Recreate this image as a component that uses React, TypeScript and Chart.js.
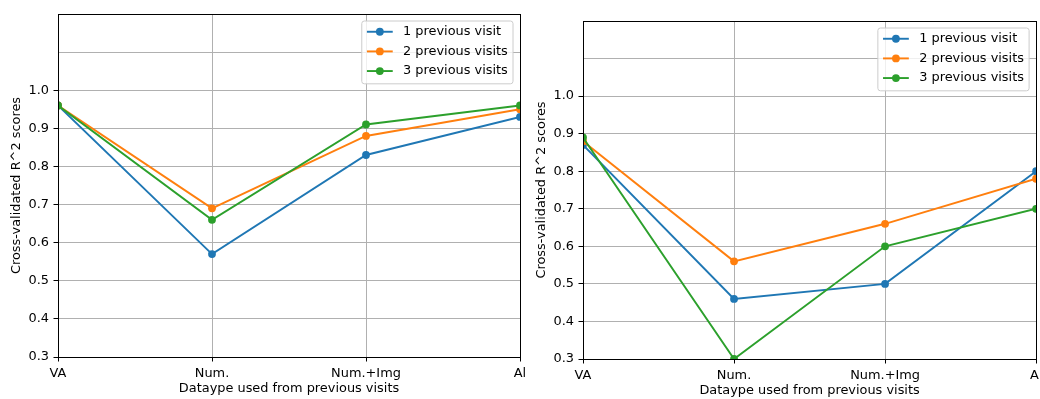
import React, { useEffect, useRef } from "react";
import { Chart, registerables } from "chart.js";
Chart.register(...registerables);

const categories = ["VA", "Num.", "Num.+Img", "Al"];
const seriesLabels = ["1 previous visit", "2 previous visits", "3 previous visits"];
const seriesColors = ["#1f77b4", "#ff7f0e", "#2ca02c"];

const leftOne = [0.96, 0.57, 0.83, 0.93];
const leftTwo = [0.96, 0.69, 0.88, 0.95];
const leftThree = [0.96, 0.66, 0.91, 0.96];

const rightOne = [0.87, 0.46, 0.5, 0.8];
const rightTwo = [0.88, 0.56, 0.66, 0.78];
const rightThree = [0.89, 0.3, 0.6, 0.7];

const yTickValues = [0.3, 0.4, 0.5, 0.6, 0.7, 0.8, 0.9, 1.0, 1.1, 1.2];
const yLabelledMax = 1.0;
const xTitle = "Dataype used from previous visits";
const yTitle = "Cross-validated R^2 scores";

const W = 1040;
const H = 399;
const FONT = "'DejaVu Sans', sans-serif";
const FS = 12.9;

type Area = { left: number; top: number; right: number; bottom: number };

function makePlugin(): any {
  return {
    id: "mplDecor",
    afterDraw(chart: any) {
      const ctx = chart.ctx as CanvasRenderingContext2D;
      const a = chart.chartArea;
      ctx.save();
      // frame
      ctx.strokeStyle = "#000";
      ctx.lineWidth = 1;
      ctx.strokeRect(Math.round(a.left) + 0.5, Math.round(a.top) + 0.5, Math.round(a.right - a.left), Math.round(a.bottom - a.top));
      // titles
      ctx.fillStyle = "#000";
      ctx.font = `${FS}px ${FONT}`;
      ctx.textAlign = "center";
      ctx.textBaseline = "middle";
      ctx.fillText(xTitle, (a.left + a.right) / 2, a.bottom + 32);
      ctx.save();
      ctx.translate(a.left - 41, (a.top + a.bottom) / 2);
      ctx.rotate(-Math.PI / 2);
      ctx.fillText(yTitle, 0, 0);
      ctx.restore();
      // legend
      const ds = chart.data.datasets.slice().sort((p: any, q: any) => p.legendIndex - q.legendIndex);
      const bp = 0.4 * FS;
      const hl = 2.0 * FS;
      const htp = 0.8 * FS;
      let tw = 0;
      ds.forEach((d: any) => {
        tw = Math.max(tw, ctx.measureText(d.label).width);
      });
      const rowH = 13.2;
      const ls = 0.5 * FS;
      const bw = bp * 2 + hl + htp + tw;
      const bh = bp * 2 + rowH * ds.length + ls * (ds.length - 1);
      const bx = a.right - 7 - bw;
      const by = a.top + 7;
      ctx.beginPath();
      const r = 0.2 * FS;
      ctx.moveTo(bx + r, by);
      ctx.lineTo(bx + bw - r, by);
      ctx.arcTo(bx + bw, by, bx + bw, by + r, r);
      ctx.lineTo(bx + bw, by + bh - r);
      ctx.arcTo(bx + bw, by + bh, bx + bw - r, by + bh, r);
      ctx.lineTo(bx + r, by + bh);
      ctx.arcTo(bx, by + bh, bx, by + bh - r, r);
      ctx.lineTo(bx, by + r);
      ctx.arcTo(bx, by, bx + r, by, r);
      ctx.closePath();
      ctx.fillStyle = "rgba(255,255,255,0.8)";
      ctx.fill();
      ctx.strokeStyle = "#cccccc";
      ctx.lineWidth = 1;
      ctx.stroke();
      ds.forEach((d: any, i: number) => {
        const cy = by + bp + rowH / 2 + i * (rowH + ls) - 1;
        const x0 = bx + bp;
        ctx.strokeStyle = d.borderColor;
        ctx.lineWidth = 1.93;
        ctx.beginPath();
        ctx.moveTo(x0, cy);
        ctx.lineTo(x0 + hl, cy);
        ctx.stroke();
        ctx.fillStyle = d.borderColor;
        ctx.beginPath();
        ctx.arc(x0 + hl / 2, cy, 3.9, 0, Math.PI * 2);
        ctx.fill();
        ctx.fillStyle = "#000";
        ctx.textAlign = "left";
        ctx.textBaseline = "middle";
        ctx.fillText(d.label, x0 + hl + htp, cy);
      });
      ctx.restore();
    },
  };
}

function makeConfig(values: number[][], area: Area): any {
  const datasets = values.map((v, i) => ({
    label: seriesLabels[i],
    data: v,
    borderColor: seriesColors[i],
    backgroundColor: seriesColors[i],
    borderWidth: 1.93,
    pointRadius: 3.9,
    pointBorderWidth: 0,
    pointHoverRadius: 3.9,
    tension: 0,
    clip: 0,
    order: values.length - 1 - i,
    legendIndex: i,
  }));
  return {
    type: "line",
    data: { labels: categories, datasets },
    plugins: [makePlugin()],
    options: {
      animation: false,
      responsive: false,
      maintainAspectRatio: false,
      devicePixelRatio: 1,
      events: [],
      layout: {
        padding: { left: area.left - 58, top: area.top, right: W - area.right, bottom: 0 },
      },
      plugins: { legend: { display: false }, tooltip: { enabled: false }, title: { display: false } },
      scales: {
        x: {
          type: "category",
          offset: false,
          grid: { color: "#b0b0b0", lineWidth: 1, offset: false, tickLength: 4.5, tickColor: "#000", drawTicks: true },
          border: { display: false },
          ticks: { color: "#000", font: { family: FONT, size: FS }, padding: 4.5, maxRotation: 0, autoSkip: false },
          afterFit(s: any) {
            s.height = H - area.bottom;
            s.paddingLeft = 0;
            s.paddingRight = 0;
          },
        },
        y: {
          type: "linear",
          min: 0.3,
          max: 1.2,
          afterBuildTicks(s: any) {
            s.ticks = yTickValues.map((v) => ({ value: v }));
          },
          grid: {
            color: "#b0b0b0",
            lineWidth: 1,
            tickLength: 4.5,
            tickColor: (c: any) => (c.tick && c.tick.value > yLabelledMax + 0.05 ? "rgba(0,0,0,0)" : "#000"),
          },
          border: { display: false },
          ticks: {
            color: "#000",
            font: { family: FONT, size: FS },
            padding: 4.5,
            callback: (v: any) => (Number(v) > yLabelledMax + 0.05 ? "" : Number(v).toFixed(1)),
          },
          afterFit(s: any) {
            s.width = 58;
            s.paddingTop = 0;
            s.paddingBottom = 0;
          },
        },
      },
    },
  };
}

function Panel({ values, area }: { values: number[][]; area: Area }) {
  const ref = useRef<HTMLCanvasElement>(null);
  useEffect(() => {
    if (!ref.current) return;
    const chart = new Chart(ref.current, makeConfig(values, area));
    return () => chart.destroy();
  }, []);
  return (
    <canvas
      ref={ref}
      width={W}
      height={H}
      style={{ position: "absolute", left: 0, top: 0, width: W, height: H }}
    />
  );
}

export default function App() {
  return (
    <div style={{ position: "absolute", left: 0, top: 0, width: W, height: H, background: "#fff", overflow: "hidden" }}>
      <Panel values={[leftOne, leftTwo, leftThree]} area={{ left: 58, top: 14, right: 520, bottom: 357 }} />
      <Panel values={[rightOne, rightTwo, rightThree]} area={{ left: 583, top: 21, right: 1037, bottom: 359 }} />
    </div>
  );
}
